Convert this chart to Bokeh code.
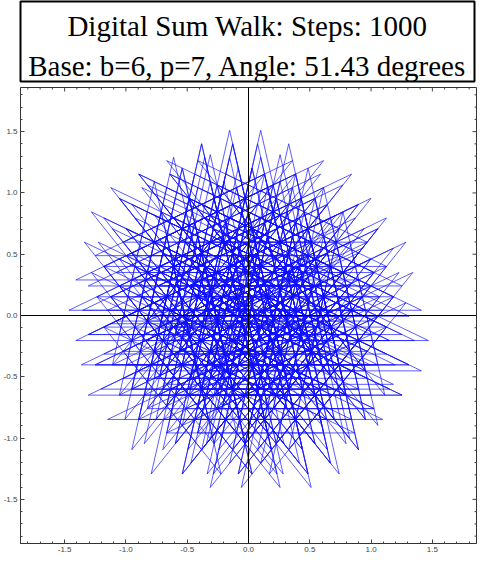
import numpy as np
from bokeh.plotting import figure
from bokeh.layouts import column
from bokeh.models import Span, Range1d, SingleIntervalTicker, Label, PrintfTickFormatter
from bokeh.embed import file_html
from bokeh.resources import INLINE

# ---- chart parameters / data ----
STEPS = 1000
BASE = 6
P = 7
ANGLE_DEG = 360.0 / P          # 51.43 degrees
TURN_MULT = 3                  # heading = TURN_MULT * angle * (digit sum mod p)
STEP_LEN = 1.28                # step length
title_lines = ["Digital Sum Walk: Steps: 1000",
               "Base: b=6, p=7, Angle: 51.43 degrees"]
plot_range = [-1.86, 1.86]
major_ticks = [-1.5, -1.0, -0.5, 0.0, 0.5, 1.0, 1.5]
minor_step = 0.1


def digit_sum(n, b):
    s = 0
    while n:
        s += n % b
        n //= b
    return s


sums = np.array([digit_sum(n, BASE) % P for n in range(STEPS)])
heading = np.radians(ANGLE_DEG) * TURN_MULT * sums
xs = np.concatenate([[0.0], np.cumsum(STEP_LEN * np.cos(heading))])
ys = np.concatenate([[0.0], np.cumsum(STEP_LEN * np.sin(heading))])
xs = xs - xs.mean()            # walk shown centred on its mean
ys = ys - ys.mean()

# ---- title box ----
t = figure(width=479, height=84, x_range=Range1d(0, 1), y_range=Range1d(0, 1),
           output_backend="svg", toolbar_location=None,
           min_border_left=20, min_border_right=5, min_border_top=1, min_border_bottom=3)
t.axis.visible = False
t.grid.visible = False
t.outline_line_color = "black"
t.outline_line_width = 2
for txt, yb in zip(title_lines, [0.70, 0.20]):
    t.add_layout(Label(x=0.5, y=yb, text=txt,
                       text_align="center", text_baseline="alphabetic",
                       text_font="Liberation Serif", text_font_size="29px",
                       text_color="black"))

# ---- walk plot ----
p = figure(frame_width=456, frame_height=456,
           x_range=Range1d(*plot_range), y_range=Range1d(*plot_range),
           output_backend="svg", toolbar_location=None,
           min_border_left=20, min_border_right=3, min_border_top=3, min_border_bottom=16)
p.grid.visible = False
p.outline_line_color = "#333333"
p.outline_line_width = 1

for ax in p.axis:
    ax.ticker = SingleIntervalTicker(interval=0.5, num_minor_ticks=5)
    ax.formatter = PrintfTickFormatter(format="%.1f")
    ax.axis_line_color = "#333333"
    ax.major_tick_in = 4
    ax.major_tick_out = 0
    ax.minor_tick_in = 2
    ax.minor_tick_out = 0
    ax.major_tick_line_color = "#444444"
    ax.minor_tick_line_color = "#444444"
    ax.major_label_text_font = "Liberation Sans"
    ax.major_label_text_font_size = "8px"
    ax.major_label_text_color = "#444444"
    ax.major_label_standoff = 3

# frame ticks on the top and right edges
px = (plot_range[1] - plot_range[0]) / 456.0
minor = [v for v in np.round(np.arange(-1.8, 1.81, minor_step), 2) if v not in major_ticks]
top = plot_range[1]
right = plot_range[1]
p.segment(x0=major_ticks, x1=major_ticks, y0=[top] * len(major_ticks),
          y1=[top - 4 * px] * len(major_ticks), line_color="#444444", line_width=1)
p.segment(x0=minor, x1=minor, y0=[top] * len(minor),
          y1=[top - 2 * px] * len(minor), line_color="#444444", line_width=1)
p.segment(y0=major_ticks, y1=major_ticks, x0=[right] * len(major_ticks),
          x1=[right - 4 * px] * len(major_ticks), line_color="#444444", line_width=1)
p.segment(y0=minor, y1=minor, x0=[right] * len(minor),
          x1=[right - 2 * px] * len(minor), line_color="#444444", line_width=1)

p.line(xs, ys, line_color="#1010ff", line_width=0.8, line_alpha=0.85)

p.add_layout(Span(location=0, dimension="width", line_color="black", line_width=1))
p.add_layout(Span(location=0, dimension="height", line_color="black", line_width=1))

layout = column(t, p)
open("out.html", "w").write(file_html(layout, INLINE))
